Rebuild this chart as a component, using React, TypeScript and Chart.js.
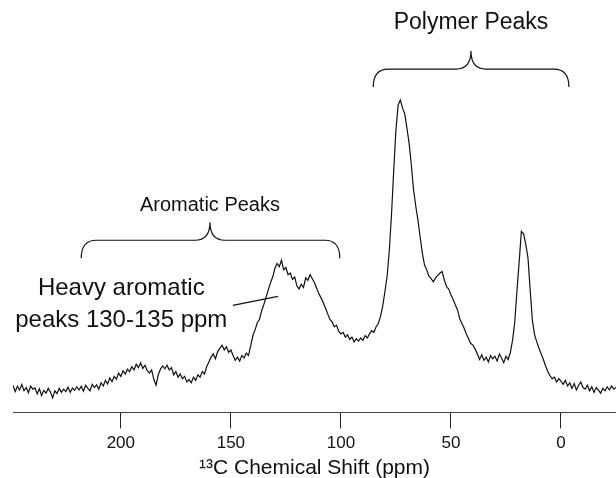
import React, { useEffect, useRef } from "react";
import { Chart, registerables } from "chart.js";

Chart.register(...registerables);

// Spectrum sampled every 1 ppm, from 249 ppm down to -25 ppm
const PPM_START = 249;
const PPM_STEP = -1;
const INTENSITY: number[] = [
  // 249..240
  6.8, 5.2, 6.5, 5.6, 7.0, 5.4, 6.2, 4.9, 6.6, 5.8,
  // 239..230
  6.1, 4.6, 5.9, 4.2, 5.5, 4.8, 6.0, 5.1, 3.6, 5.4,
  // 229..220
  4.7, 6.0, 5.0, 5.8, 5.2, 6.3, 5.0, 6.1, 5.5, 6.4,
  // 219..210
  5.6, 6.5, 5.3, 6.8, 6.0, 5.4, 7.0, 6.2, 6.9, 5.8,
  // 209..200
  7.4, 6.6, 8.0, 7.1, 8.6, 7.7, 9.0, 8.3, 9.8, 9.0,
  // 199..190
  10.4, 9.6, 10.8, 10.2, 11.4, 10.6, 12.0, 11.2, 12.4, 11.0,
  // 189..180
  11.8, 10.4, 9.8, 10.6, 8.2, 6.8, 9.4, 10.8, 11.6, 10.9,
  // 179..170
  11.8, 10.6, 11.2, 9.4, 10.2, 8.8, 9.6, 8.4, 9.0, 7.6,
  // 169..160
  8.2, 7.4, 8.8, 8.0, 9.4, 8.8, 10.2, 9.6, 11.4, 12.6,
  // 159..150
  13.8, 14.6, 13.4, 15.2, 16.0, 16.8, 15.6, 16.4, 15.0, 15.6,
  // 149..140
  14.2, 13.0, 13.8, 12.8, 14.2, 13.6, 14.8, 14.2, 16.6, 19.2,
  // 139..130
  20.6, 22.4, 23.2, 25.4, 27.0, 28.8, 30.6, 32.4, 33.8, 36.0,
  // 129..120
  37.2, 36.4, 38.0, 35.6, 36.2, 34.4, 34.8, 33.2, 33.8, 31.6,
  // 119..110
  30.8, 32.0, 31.2, 33.6, 33.0, 34.4, 33.4, 32.4, 31.0, 29.6,
  // 109..100
  28.6, 27.4, 26.0, 24.6, 23.2, 22.6, 21.4, 21.8, 20.2, 19.6,
  // 99..90
  20.0, 18.8, 19.4, 18.2, 18.8, 17.6, 18.4, 17.8, 18.6, 18.0,
  // 89..80
  19.2, 18.6, 19.6, 20.4, 20.0, 21.4, 22.2, 24.0, 26.6, 30.2,
  // 79..70
  34.0, 40.5, 49.5, 60.5, 70.5, 76.8, 78.0, 76.0, 74.6, 71.0,
  // 69..60
  67.2, 61.8, 55.6, 51.6, 48.0, 43.8, 39.8, 36.8, 35.6, 34.0,
  // 59..50
  33.4, 32.6, 33.6, 34.2, 34.8, 35.2, 33.0, 31.4, 30.8, 29.4,
  // 49..40
  28.2, 26.8, 25.6, 23.4, 22.2, 21.0, 19.6, 18.4, 17.2, 16.8,
  // 39..30
  15.8, 14.6, 13.2, 14.4, 13.0, 13.8, 12.6, 14.2, 13.4, 14.0,
  // 29..20
  12.8, 14.6, 13.6, 12.4, 14.0, 13.2, 15.0, 18.0, 22.6, 30.4,
  // 19..10
  37.6, 45.2, 44.6, 42.0, 38.6, 30.6, 23.0, 19.4, 17.6, 16.0,
  // 9..0
  14.6, 13.2, 11.6, 10.2, 9.2, 8.4, 8.8, 7.6, 8.4, 7.8,
  // -1..-10
  7.0, 8.0, 6.6, 7.4, 6.0, 7.2, 5.6, 6.8, 7.6, 6.2,
  // -11..-20
  5.8, 6.8, 5.4, 6.4, 5.0, 6.2, 5.6, 4.8, 6.0, 5.4,
  // -21..-25
  6.4, 5.6, 6.6, 5.8, 6.2,
];

const X_TICKS = [200, 150, 100, 50, 0];
const X_MIN = -25;
const X_MAX = 249;
const X_TITLE = "¹³C Chemical Shift (ppm)";

const BRACE_LABELS = ["Aromatic Peaks", "Polymer Peaks"];
const BRACE_FROM = [218, 85.3];
const BRACE_TO = [100.5, -3.6];
const BRACE_TIP = [159.5, 40.9];

const NOTE_LINES = ["Heavy aromatic", "peaks 130-135 ppm"];
const NOTE_PPM = 199.8;
const POINTER_FROM = [149.1, 26.75];
const POINTER_TO = [128.6, 29];

const FONT = "'Liberation Sans', Arial, sans-serif";

function drawBrace(
  ctx: CanvasRenderingContext2D,
  xa: number,
  xb: number,
  xc: number,
  yE: number,
  yH: number,
  yT: number,
  r: number
) {
  const x0 = Math.min(xa, xb);
  const x1 = Math.max(xa, xb);
  ctx.beginPath();
  ctx.moveTo(x0, yE);
  ctx.quadraticCurveTo(x0, yH, x0 + r, yH);
  ctx.lineTo(xc - r, yH);
  ctx.quadraticCurveTo(xc, yH, xc, yT);
  ctx.quadraticCurveTo(xc, yH, xc + r, yH);
  ctx.lineTo(x1 - r, yH);
  ctx.quadraticCurveTo(x1, yH, x1, yE);
  ctx.stroke();
}

const annotations = {
  id: "nmrAnnotations",
  afterDraw(chart: any) {
    const ctx: CanvasRenderingContext2D = chart.ctx;
    const xs = chart.scales.x;
    const ys = chart.scales.y;
    ctx.save();
    ctx.strokeStyle = "#111";
    ctx.fillStyle = "#111";
    ctx.lineWidth = 1.2;
    ctx.textAlign = "center";
    ctx.textBaseline = "middle";

    // brace geometry in intensity units: end, bar, tip, label
    const levels = [
      [38.5, 43, 47.5, 51.75],
      [81.25, 85.75, 90.25, 97.25],
    ];
    const fonts = [20, 23];
    BRACE_LABELS.forEach((label, i) => {
      const [e, b, t, l] = levels[i];
      drawBrace(
        ctx,
        xs.getPixelForValue(BRACE_FROM[i]),
        xs.getPixelForValue(BRACE_TO[i]),
        xs.getPixelForValue(BRACE_TIP[i]),
        ys.getPixelForValue(e),
        ys.getPixelForValue(b),
        ys.getPixelForValue(t),
        15
      );
      ctx.font = `${fonts[i]}px ${FONT}`;
      ctx.fillText(label, xs.getPixelForValue(BRACE_TIP[i]), ys.getPixelForValue(l));
    });

    ctx.font = `24px ${FONT}`;
    const noteY = [31, 23];
    NOTE_LINES.forEach((line, i) => {
      ctx.fillText(line, xs.getPixelForValue(NOTE_PPM), ys.getPixelForValue(noteY[i]));
    });

    ctx.lineWidth = 1.3;
    ctx.beginPath();
    ctx.moveTo(xs.getPixelForValue(POINTER_FROM[0]), ys.getPixelForValue(POINTER_FROM[1]));
    ctx.lineTo(xs.getPixelForValue(POINTER_TO[0]), ys.getPixelForValue(POINTER_TO[1]));
    ctx.stroke();
    ctx.restore();
  },
};

export default function App() {
  const ref = useRef<HTMLCanvasElement | null>(null);

  useEffect(() => {
    document.body.style.margin = "0";
    document.body.style.overflow = "hidden";
    document.documentElement.style.overflow = "hidden";
    const canvas = ref.current;
    if (!canvas) return;
    const points = INTENSITY.map((v, i) => ({ x: PPM_START + i * PPM_STEP, y: v }));
    const chart = new Chart(canvas, {
      type: "line",
      data: {
        datasets: [
          {
            data: points,
            borderColor: "#111",
            borderWidth: 1.2,
            pointRadius: 0,
            tension: 0,
            fill: false,
          },
        ],
      },
      options: {
        animation: false,
        responsive: false,
        devicePixelRatio: 1,
        layout: { padding: { left: 13, right: 0, top: 12, bottom: -3 } },
        plugins: {
          legend: { display: false },
          tooltip: { enabled: false },
        },
        scales: {
          x: {
            type: "linear",
            reverse: true,
            min: X_MIN,
            max: X_MAX,
            afterBuildTicks: (scale: any) => {
              scale.ticks = X_TICKS.map((v) => ({ value: v }));
            },
            grid: {
              drawOnChartArea: false,
              drawTicks: true,
              tickLength: 16,
              color: "#222",
              lineWidth: 1,
            },
            border: { display: true, color: "#444", width: 1 },
            ticks: {
              color: "#111",
              padding: 5,
              maxRotation: 0,
              font: { family: FONT, size: 17 },
            },
            title: {
              display: true,
              text: X_TITLE,
              color: "#111",
              padding: { top: -3, bottom: 0 },
              font: { family: FONT, size: 21 },
            },
          },
          y: {
            display: false,
            min: 0,
            max: 100,
          },
        },
      },
      plugins: [annotations],
    });
    return () => chart.destroy();
  }, []);

  return <canvas ref={ref} width={616} height={478} style={{ display: "block" }} />;
}
